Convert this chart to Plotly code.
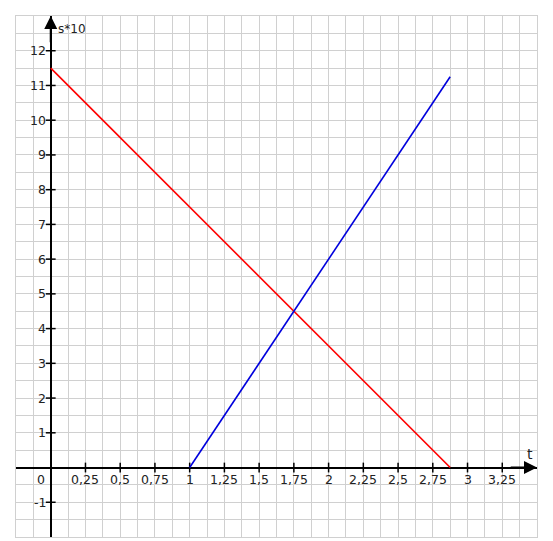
import plotly.graph_objects as go

# Data
t_red = [0, 2.875]
s_red = [11.5, 0]
t_blue = [1, 2.875]
s_blue = [0, 11.25]

x_tick_vals = [0.25, 0.5, 0.75, 1, 1.25, 1.5, 1.75, 2, 2.25, 2.5, 2.75, 3, 3.25]
x_tick_text = ["0,25", "0,5", "0,75", "1", "1,25", "1,5", "1,75", "2", "2,25", "2,5", "2,75", "3", "3,25"]
y_tick_vals = [-1, 1, 2, 3, 4, 5, 6, 7, 8, 9, 10, 11, 12]
y_tick_text = ["-1", "1", "2", "3", "4", "5", "6", "7", "8", "9", "10", "11", "12"]

x_range = [-0.25, 3.5]
y_range = [-2, 13]

FONT = "DejaVu Sans"
TXT = "#222222"

fig = go.Figure()

# tick marks
fig.add_trace(go.Scatter(
    x=x_tick_vals, y=[0] * len(x_tick_vals), mode="markers",
    marker=dict(symbol="line-ns", size=7, line=dict(color="black", width=1.5)),
    hoverinfo="skip", showlegend=False))
fig.add_trace(go.Scatter(
    x=[0] * len(y_tick_vals), y=y_tick_vals, mode="markers",
    marker=dict(symbol="line-ew", size=7, line=dict(color="black", width=1.5)),
    hoverinfo="skip", showlegend=False))

fig.add_trace(go.Scatter(x=t_red, y=s_red, mode="lines",
                         line=dict(color="#ff0000", width=1.6),
                         hoverinfo="skip", showlegend=False))
fig.add_trace(go.Scatter(x=t_blue, y=s_blue, mode="lines",
                         line=dict(color="#0000dd", width=1.6),
                         hoverinfo="skip", showlegend=False))

annotations = []
for v, txt in zip(x_tick_vals, x_tick_text):
    annotations.append(dict(x=v, y=0, text=txt, showarrow=False, xanchor="center",
                            yanchor="top", yshift=-2, font=dict(family=FONT, size=12.5, color=TXT)))
for v, txt in zip(y_tick_vals, y_tick_text):
    annotations.append(dict(x=0, y=v, text=txt, showarrow=False, xanchor="right",
                            yanchor="middle", xshift=-3, font=dict(family=FONT, size=12.5, color=TXT)))
annotations.append(dict(x=0, y=0, text="0", showarrow=False, xanchor="right",
                        yanchor="top", xshift=-4, yshift=-2, font=dict(family=FONT, size=12.5, color=TXT)))
# axis arrows
annotations.append(dict(x=x_range[1], y=0, ax=x_range[1] - 0.2, ay=0, axref="x", ayref="y",
                        xref="x", yref="y", showarrow=True, arrowhead=2, arrowsize=1.3,
                        arrowwidth=2, arrowcolor="black", standoff=0, text=""))
annotations.append(dict(x=0, y=y_range[1], ax=0, ay=y_range[1] - 0.8, axref="x", ayref="y",
                        xref="x", yref="y", showarrow=True, arrowhead=2, arrowsize=1.3,
                        arrowwidth=2, arrowcolor="black", standoff=0, text=""))
# axis titles
annotations.append(dict(x=x_range[1], y=0, text="t", showarrow=False, xanchor="right",
                        yanchor="bottom", xshift=-2, yshift=4, font=dict(family=FONT, size=14, color=TXT)))
annotations.append(dict(x=0, y=y_range[1], text="s*10", showarrow=False, xanchor="left",
                        yanchor="top", xshift=5, yshift=-4, font=dict(family=FONT, size=12, color=TXT)))

# page body has an 8px margin; plot area is placed at 16..537 on screen
fig.update_layout(
    width=545, height=533,
    margin=dict(l=8, r=16, t=8, b=4),
    paper_bgcolor="white", plot_bgcolor="white",
    xaxis=dict(range=x_range, dtick=0.125, tick0=0, showticklabels=False, ticks="",
               showgrid=True, gridcolor="#d0d0d0", gridwidth=1,
               zeroline=True, zerolinecolor="black", zerolinewidth=2,
               showline=True, linecolor="#d0d0d0", linewidth=1, mirror=True, fixedrange=True),
    yaxis=dict(range=y_range, dtick=0.5, tick0=0, showticklabels=False, ticks="",
               showgrid=True, gridcolor="#d0d0d0", gridwidth=1,
               zeroline=True, zerolinecolor="black", zerolinewidth=2,
               showline=True, linecolor="#d0d0d0", linewidth=1, mirror=True, fixedrange=True),
    annotations=annotations,
    hovermode=False,
)

fig.write_html("out.html")
